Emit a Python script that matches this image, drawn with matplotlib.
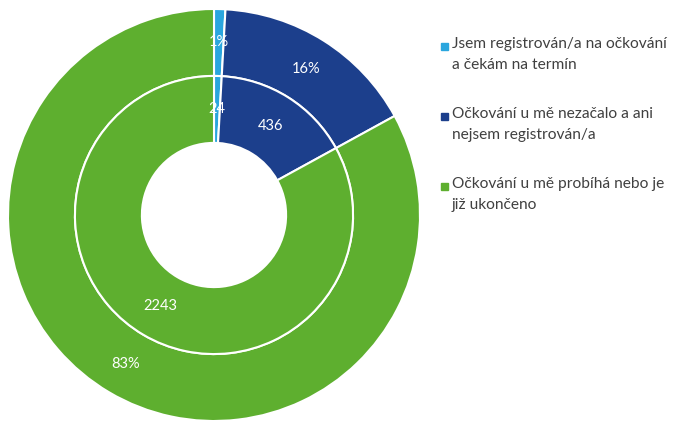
import matplotlib
matplotlib.use("Agg")
import matplotlib.pyplot as plt
from matplotlib.patches import Rectangle

categories = [
    "Jsem registrován/a na očkování\na čekám na termín",
    "Očkování u mě nezačalo a ani\nnejsem registrován/a",
    "Očkování u mě probíhá nebo je\njiž ukončeno",
]
counts = [24, 436, 2243]
colors = ["#2AA6DE", "#1C3F8C", "#5EAF2F"]

plt.rcParams["font.family"] = ["Lato", "DejaVu Sans"]

fig = plt.figure(figsize=(6.8, 4.25), dpi=100)
ax = fig.add_axes([8 / 680, 4 / 425, 412 / 680, 412 / 425])

total = sum(counts)
wedge_style = dict(width=0.325, edgecolor="white", linewidth=1.5)

# outer ring: percentages
ax.pie(counts, radius=1.0, colors=colors, startangle=90, counterclock=False,
       wedgeprops=wedge_style, autopct=lambda p: f"{p:.0f}%",
       pctdistance=0.84, textprops=dict(color="white", fontsize=10.5))

# inner ring: counts
ax.pie(counts, radius=0.675, colors=colors, startangle=90, counterclock=False,
       wedgeprops=wedge_style,
       autopct=lambda p: f"{round(p * total / 100):d}",
       pctdistance=0.76, textprops=dict(color="white", fontsize=10.5))

ax.set_xlim(-1, 1)
ax.set_ylim(-1, 1)
ax.set_aspect("equal")
ax.axis("off")

# legend drawn by hand so the square sits on the first line
y_tops = [46, 116, 186]
for label, col, y in zip(categories, colors, y_tops):
    fig.patches.append(Rectangle((441 / 680, 1 - (y + 4) / 425), 7 / 680, 7 / 425,
                                 transform=fig.transFigure, color=col))
    fig.text(452 / 680, 1 - (y - 9) / 425, label, fontsize=11.2, color="#404040",
             va="top", ha="left", linespacing=1.6)

fig.savefig("out.png", dpi=100)
